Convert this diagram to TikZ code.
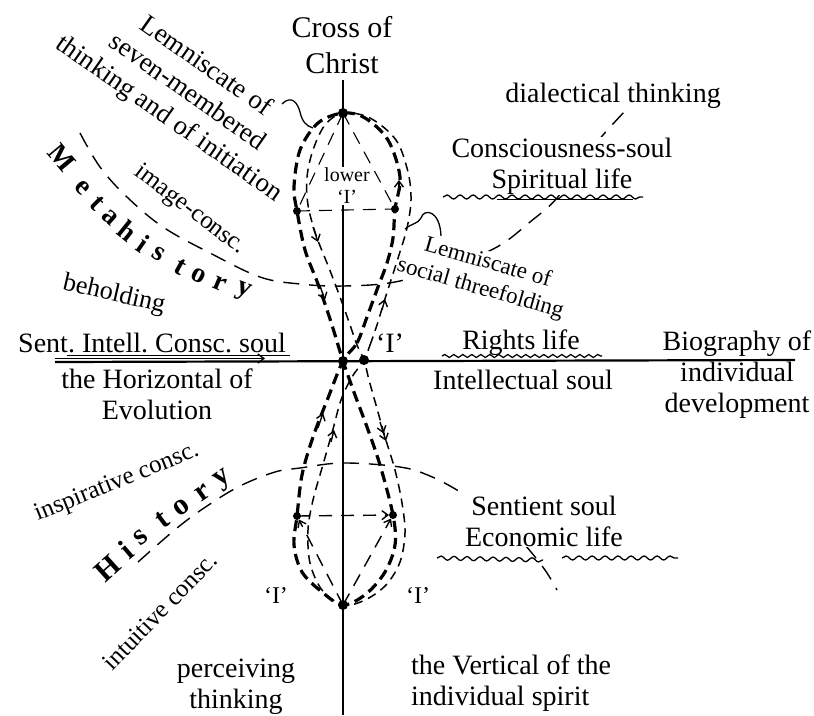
\documentclass[tikz,border=0pt]{standalone}
\usepackage{fontspec}
\setmainfont{Liberation Serif}
\usetikzlibrary{arrows.meta,decorations.pathmorphing}

\begin{document}
\begin{tikzpicture}[x=1pt,y=-1pt,
    txt/.style={font=\fontsize{28}{31}\selectfont, align=center, inner sep=1pt},
    masked/.style={fill=white},
    bigletter/.style={font=\fontsize{28}{30}\selectfont\bfseries, inner sep=0pt},
    boldlemn/.style={line width=3.2pt, dash pattern=on 11pt off 6pt},
    thinlemn/.style={line width=1.5pt, dash pattern=on 9pt off 6pt},
    helper/.style={line width=1.1pt, dash pattern=on 13pt off 9pt},
    era/.style={line width=1.4pt, dash pattern=on 16pt off 10pt},
    axisline/.style={line width=2.2pt},
    wavy/.style={line width=1.3pt, decorate, decoration={snake, segment length=13pt, amplitude=2pt}},
    chevron/.style={line width=1.4pt, -{Straight Barb[length=6pt,width=9pt]}},
    blob/.style={circle, fill=black, inner sep=0pt, minimum size=#1},
    blob/.default=9pt
]
\useasboundingbox (0,0) rectangle (814,715);

% points of the figure
\coordinate (top) at (343,113);
\coordinate (cross) at (343,361);
\coordinate (cross2) at (364,360);
\coordinate (bottom) at (343,605);
\coordinate (ul) at (297,211);
\coordinate (ur) at (395,209);
\coordinate (ll) at (297,516);
\coordinate (lr) at (393,515);
\coordinate (west) at (55,362);
\coordinate (east) at (795,360);
\coordinate (north) at (343,80);
\coordinate (south) at (343,715);

% the cross
\draw[axisline] (west) -- (east);
\draw[axisline] (north) -- (south);
\draw[chevron] (55,358.5) -- (265,358.5);
\draw[line width=1pt] (67,355) -- (290,355);

% metahistory and history
\draw[era] plot[smooth, tension=0.6] coordinates {(80,133) (100,167) (127,197) (163,227) (210,253) (260,277) (300,284) (343,286) (395,282) (450,266) (497,247) (530,222) (557,198) (583,160) (603,135) (626,110)};
\draw[era] plot[smooth, tension=0.6] coordinates {(138,562) (177,528) (207,506) (240,486) (275,472) (300,468) (343,463) (400,467) (430,476) (457,490) (480,505) (503,523) (525,545) (545,570) (557,590)};

% labels
\node[txt, font=\fontsize{30}{36}\selectfont] (crossLbl) at (342,45) {Cross of\\Christ};
\node[txt, font=\fontsize{27}{32}\selectfont, rotate=-35] (sevenLbl) at (187,93) {Lemniscate of\\seven-membered\\thinking and of initiation};
\node[txt, font=\fontsize{25}{28}\selectfont, rotate=-37] (imageLbl) at (190,210) {image-consc.};
\node[txt, font=\fontsize{26}{28}\selectfont, rotate=-13] (beholdLbl) at (114,295) {beholding};
\node[txt, anchor=base] (sentLbl) at (152,352) {Sent.\ Intell.\ Consc.\ soul};
\node[txt] (horizLbl) at (157,394) {the Horizontal of\\Evolution};
\node[txt, font=\fontsize{25}{28}\selectfont, rotate=22] (inspLbl) at (117,483) {inspirative consc.};
\node[txt, font=\fontsize{25}{28}\selectfont, rotate=46] (intuLbl) at (160,611) {intuitive consc.};
\node[txt] (percLbl) at (236,687) {perceiving\\thinking};
\node[txt, align=left, anchor=west] (vertLbl) at (410,683) {the Vertical of the\\individual spirit};
\node[txt, font=\fontsize{20}{22}\selectfont, masked] (lowerLbl) at (347,186) {lower\\`I'};
\node[txt, anchor=base] (centreI) at (390,352) {`I'};
\node[txt, font=\fontsize{24}{26}\selectfont, anchor=base] (leftI) at (276,603) {`I'};
\node[txt, font=\fontsize{24}{26}\selectfont, anchor=base] (rightI) at (418,603) {`I'};
\node[txt, anchor=base] (dialLbl) at (613,102) {dialectical thinking};
\node[txt, masked] (consLbl) at (562,166) {Consciousness-soul\\Spiritual life};
\node[txt, font=\fontsize{23}{27}\selectfont, rotate=-16, masked] (socialLbl) at (484,276) {Lemniscate of\\social threefolding};
\node[txt, anchor=base] (rightsLbl) at (521,349) {Rights life};
\node[txt, anchor=base] (intellLbl) at (523,389) {Intellectual soul};
\node[txt] (bioLbl) at (737,375) {Biography of\\individual\\development};
\node[txt, masked] (sentientLbl) at (544,521) {Sentient soul\\Economic life};

% spaced letters
\foreach \ch/\px/\py/\ang [count=\i] in {M/62/158/-50, e/82/188/-48, t/97/203/-45, a/110/217/-42, h/128/231/-39, i/143/244/-35, s/159/254/-32, t/180/267/-29, o/199/276/-26, r/220/284/-23, y/243/292/-21}
  \node[bigletter, rotate=\ang] (meta\i) at (\px,\py) {\ch};
\foreach \ch/\px/\py/\ang [count=\i] in {H/108/568/42, i/126/550/40, s/141/537/38, t/162/520/37, o/181/507/36, r/203/493/35, y/224/480/35}
  \node[bigletter, font=\fontsize{30}{32}\selectfont\bfseries, rotate=\ang] (hist\i) at (\px,\py) {\ch};

% the two lemniscates
\draw[boldlemn] plot[smooth cycle, tension=0.55] coordinates {(cross) (357,343) (367,317) (378,287) (387,263) (393,238) (ur) (400,177) (388,140) (365,118) (top) (318,123) (300,150) (294,187) (ul) (305,250) (318,284) (331,322) (cross) (355,395) (367,427) (380,465) (lr) (395,545) (385,572) (366,594) (bottom) (322,592) (302,572) (294,545) (ll) (302,475) (313,437) (328,398)};
\draw[thinlemn] plot[smooth cycle, tension=0.55] coordinates {(cross2) (370,345) (377,325) (384,302) (391,280) (399,255) (407,228) (411,200) (408,172) (396,140) (370,118) (top) (325,125) (313,150) (307,177) (308,205) (316,235) (329,268) (340,297) (349,322) (357,345) (cross2) (369,380) (376,405) (385,437) (395,470) (402,503) (405,533) (400,562) (386,585) (365,600) (bottom) (322,590) (310,563) (308,530) (313,500) (322,468) (332,433) (341,400) (352,377)};

% inner lines
\draw[helper] (top) -- (ul);
\draw[helper] (top) -- (ur);
\draw[helper] (ul) -- (ur);
\draw[helper, chevron, shorten >=4pt] (ll) -- (lr);
\draw[helper, chevron, shorten >=4pt] (bottom) -- (ll);
\draw[helper, chevron, shorten >=4pt] (bottom) -- (lr);

% directions
\draw[chevron] (399,192) -- (399,180);
\draw[chevron] (320,286) -- (325,300);
\draw[chevron] (318,428) -- (323,413);
\draw[chevron] (313,227) -- (318,242);
\draw[chevron] (382,310) -- (385,299);
\draw[line width=1.4pt, -{Straight Barb[length=6pt,width=9pt] Straight Barb[length=6pt,width=9pt]}] (380,422) -- (386,441);
\draw[chevron] (331,442) -- (334,430);

% hooks of the two labels
\coordinate (sevenEnd) at (282,104);
\coordinate (sevenTip) at (313,128);
\draw[line width=1.3pt] (sevenEnd) .. controls (292,94) and (298,104) .. (300,112) .. controls (302,121) and (306,126) .. (sevenTip);
\coordinate (socialTip) at (405,229);
\coordinate (socialEnd) at (441,236);
\draw[line width=1.3pt] (socialTip) .. controls (412,223) and (418,224) .. (421,218) .. controls (424,208) and (440,210) .. (socialEnd);

% underlinings
\draw[wavy] (443,197) -- (643,197);
\draw[line width=1pt] (497,199) -- (633,199);
\draw[wavy, decoration={snake, segment length=9pt, amplitude=1.5pt}] (442,356) -- (602,356);
\draw[wavy] (437,558) -- (543,560);
\draw[wavy] (562,558) -- (678,558);

% points
\node[blob=10pt] (topDot) at (top) {};
\node[blob=10pt] (crossDot) at (cross) {};
\node[blob=10pt] (cross2Dot) at (cross2) {};
\node[blob=10pt] (bottomDot) at (bottom) {};
\node[blob=8pt] (ulDot) at (ul) {};
\node[blob=8pt] (urDot) at (ur) {};
\node[blob=8pt] (llDot) at (ll) {};
\node[blob=8pt] (lrDot) at (lr) {};
\end{tikzpicture}
\end{document}
